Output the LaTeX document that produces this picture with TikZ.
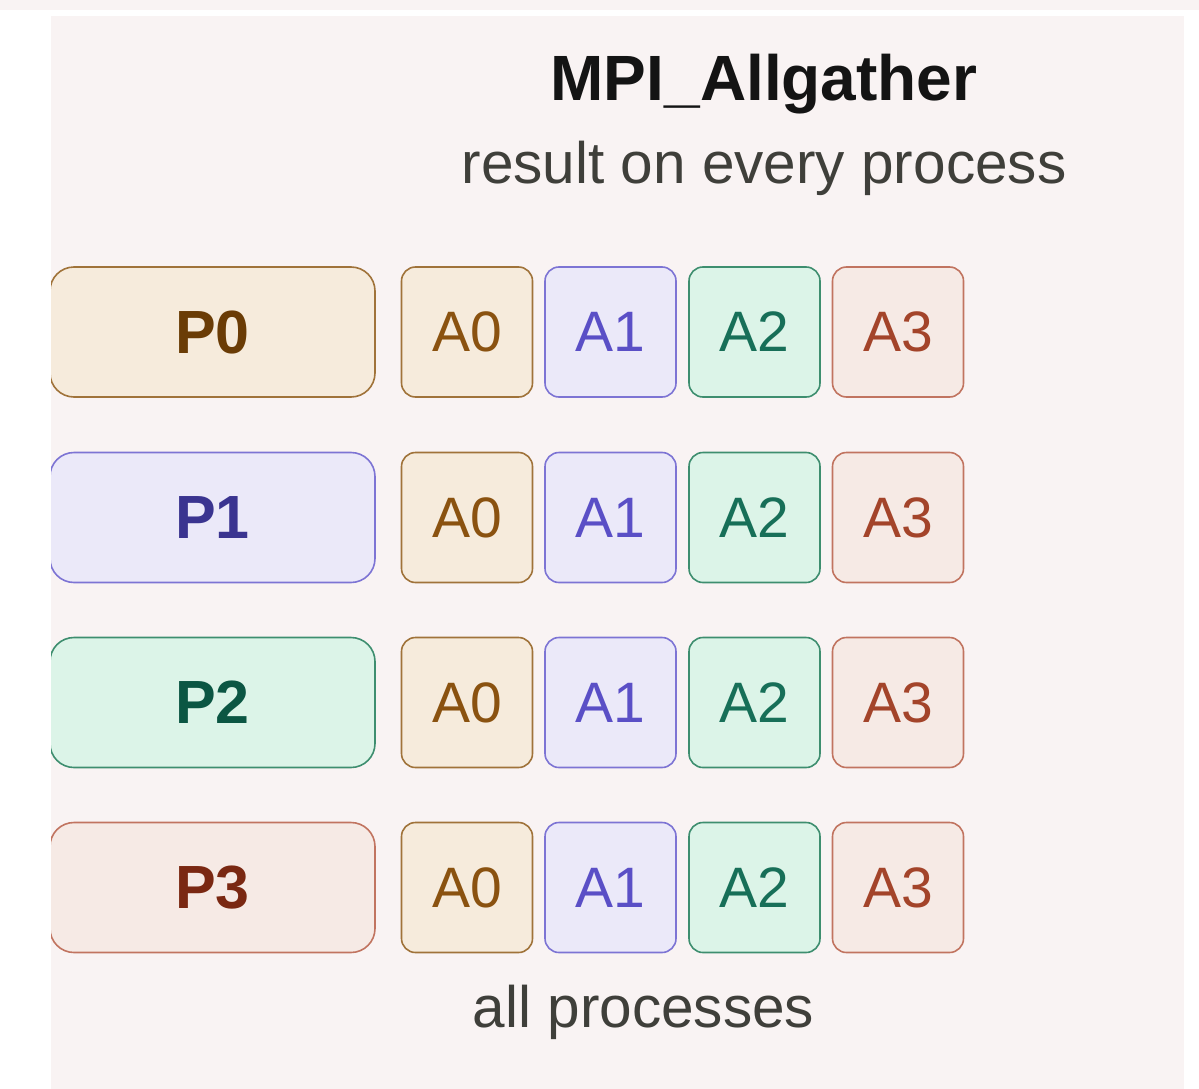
\documentclass[tikz,border=0pt]{standalone}
\usepackage{fontspec}
\setmainfont{Liberation Sans}
\definecolor{panelbg}{HTML}{F9F3F3}
\definecolor{titleink}{HTML}{141414}
\definecolor{subink}{HTML}{3F3F3A}
% per-rank palettes: fill, border, rank label, block label
\definecolor{fillA}{HTML}{F6EBDC}\definecolor{lineA}{HTML}{A0733A}\definecolor{rankA}{HTML}{6A3C06}\definecolor{blkA}{HTML}{8A5210}
\definecolor{fillB}{HTML}{EBE9F9}\definecolor{lineB}{HTML}{7D74D4}\definecolor{rankB}{HTML}{3A3490}\definecolor{blkB}{HTML}{5A4FC6}
\definecolor{fillC}{HTML}{DCF4E8}\definecolor{lineC}{HTML}{3E8E6F}\definecolor{rankC}{HTML}{0B5643}\definecolor{blkC}{HTML}{176F58}
\definecolor{fillD}{HTML}{F6EAE5}\definecolor{lineD}{HTML}{C17460}\definecolor{rankD}{HTML}{7A2812}\definecolor{blkD}{HTML}{A3442A}
\tikzset{
  rankbox/.style={draw=line#1, fill=fill#1, line width=1.6pt, rounded corners=24pt,
    minimum width=325pt, minimum height=130pt, inner sep=0pt,
    text=rank#1, font=\fontsize{61}{70}\selectfont\bfseries},
  blkbox/.style={draw=line#1, fill=fill#1, line width=1.6pt, rounded corners=14pt,
    minimum width=131pt, minimum height=130pt, inner sep=0pt,
    text=blk#1, font=\fontsize{57}{64}\selectfont},
  caption/.style={anchor=base, text=subink, font=\fontsize{58.5}{66}\selectfont},
}
\begin{document}
\begin{tikzpicture}[x=1pt, y=-1pt]
  \useasboundingbox (0,0) rectangle (1199,1089);
  % thin strip along the top and the main panel
  \fill[panelbg] (0,0) rectangle (1199,10);
  \fill[panelbg] (51,16) rectangle (1184,1089);

  \node[anchor=base, text=titleink, font=\fontsize{64}{72}\selectfont\bfseries] (title) at (764,101) {MPI\_Allgather};
  \node[caption] (subtitle) at (764,183) {result on every process};

  \begin{scope}
    \clip (51,16) rectangle (1184,1089);
    \foreach \r/\c [count=\i from 0] in {332/A, 517.5/B, 702.5/C, 887.5/D} {
      \node[rankbox=\c] (p\i) at (212.5,\r) {P\i};
      \node[blkbox=A] (b\i a) at (467,\r) {A0};
      \node[blkbox=B] (b\i b) at (610.5,\r) {A1};
      \node[blkbox=C] (b\i c) at (754.5,\r) {A2};
      \node[blkbox=D] (b\i d) at (898,\r) {A3};
    }
  \end{scope}

  \node[caption] (footer) at (643.5,1027) {all processes};
\end{tikzpicture}
\end{document}
